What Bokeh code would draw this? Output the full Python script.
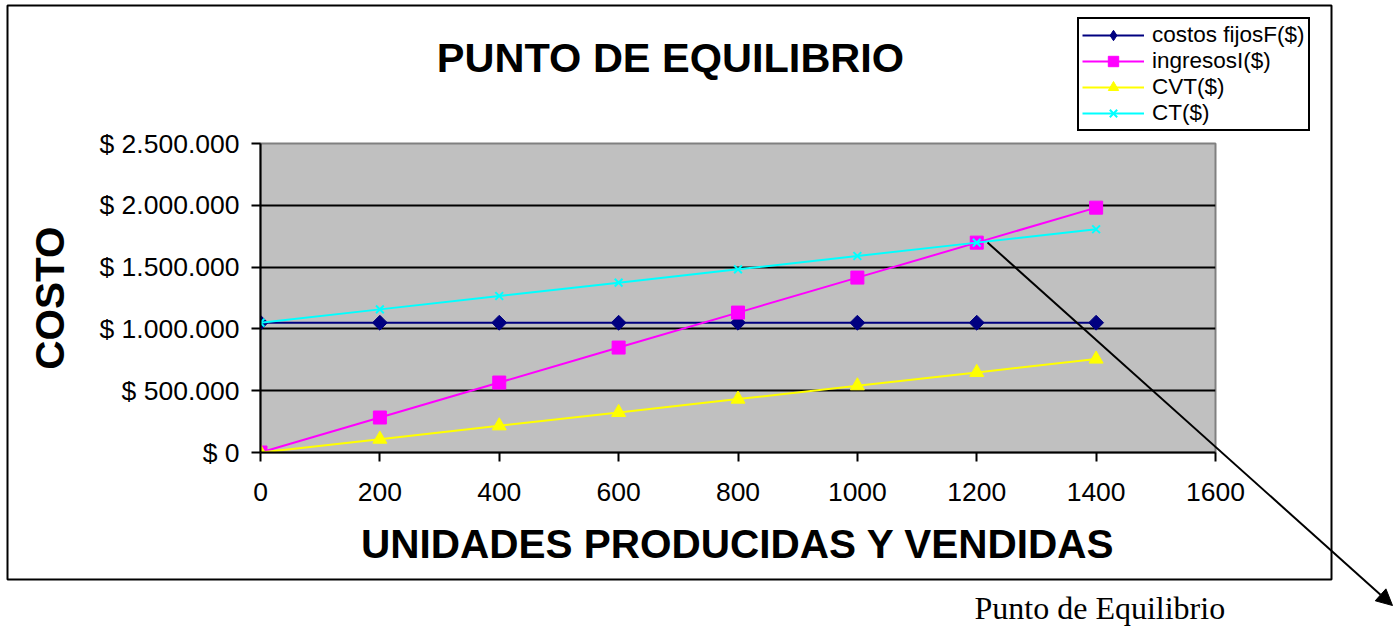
import math
from bokeh.plotting import figure
from bokeh.models import (Range1d, FixedTicker, Legend, LegendItem, Label, Arrow,
                          NormalHead, BoxAnnotation)
from bokeh.embed import file_html
from bokeh.resources import INLINE

# ---- data ----
units = [0, 200, 400, 600, 800, 1000, 1200, 1400]
costos_fijos = [1050000, 1050000, 1050000, 1050000, 1050000, 1050000, 1050000, 1050000]
ingresos = [0, 283000, 566000, 849000, 1132000, 1415000, 1698000, 1981000]
cvt = [0, 108000, 216000, 324000, 432000, 540000, 648000, 756000]
ct = [1050000, 1158000, 1266000, 1374000, 1482000, 1590000, 1698000, 1806000]

series_names = ["costos fijosF($)", "ingresosI($)", "CVT($)", "CT($)"]
series_colors = ["#000080", "#FF00FF", "#FFFF00", "#00FFFF"]
x_ticks = [0, 200, 400, 600, 800, 1000, 1200, 1400, 1600]
y_ticks = [0, 500000, 1000000, 1500000, 2000000, 2500000]
y_tick_labels = ["$ 0", "$ 500.000", "$ 1.000.000", "$ 1.500.000", "$ 2.000.000", "$ 2.500.000"]

FONT = "Liberation Sans"
W, H = 1396, 626

# marker styles for the chart
marker_styles = [
    dict(marker="square", angle=math.pi / 4, size=10.5,
         fill_color=series_colors[0], line_color=series_colors[0]),
    dict(marker="square", size=13, fill_color=series_colors[1], line_color=series_colors[1]),
    dict(marker="triangle", size=14, fill_color=series_colors[2], line_color=series_colors[2]),
    dict(marker="x", size=11, line_color=series_colors[3], line_width=2),
]
# legend swatch markers (legend ignores angle, so a diamond marker is used there)
legend_marker_styles = [
    dict(marker="diamond", fill_color=series_colors[0], line_color=series_colors[0]),
    dict(marker="square", fill_color=series_colors[1], line_color=series_colors[1]),
    dict(marker="triangle", fill_color=series_colors[2], line_color=series_colors[2]),
    dict(marker="x", line_color=series_colors[3], line_width=2),
]

# ================= main chart =================
p = figure(width=W, height=H, output_backend="svg", toolbar_location=None,
           x_range=Range1d(0, 1600), y_range=Range1d(0, 2500000))
p.min_border_left = 260
p.min_border_right = W - 1215
p.min_border_top = 143
p.min_border_bottom = H - 452

p.background_fill_color = "#C0C0C0"
p.border_fill_color = "white"
p.outline_line_color = "#808080"
p.outline_line_width = 2

p.xgrid.visible = False
p.ygrid.ticker = FixedTicker(ticks=y_ticks[:-1])
p.ygrid.grid_line_color = "black"
p.ygrid.grid_line_width = 2

p.xaxis.ticker = FixedTicker(ticks=x_ticks)
p.yaxis.ticker = FixedTicker(ticks=y_ticks)
p.yaxis.major_label_overrides = {t: l for t, l in zip(y_ticks, y_tick_labels)}
for ax in (p.xaxis[0], p.yaxis[0]):
    ax.axis_line_color = "black"
    ax.axis_line_width = 2
    ax.major_tick_line_color = "black"
    ax.major_tick_line_width = 2
    ax.major_tick_in = 0
    ax.major_tick_out = 9
    ax.minor_tick_line_color = None
    ax.major_label_text_font = FONT
    ax.major_label_text_font_size = "26.5px"
    ax.major_label_text_color = "black"
    ax.axis_label_text_font = FONT
    ax.axis_label_text_font_size = "40.5px"
    ax.axis_label_text_font_style = "bold"
    ax.axis_label_text_color = "black"

p.xaxis.axis_label = "UNIDADES PRODUCIDAS Y VENDIDAS"
p.xaxis.major_label_standoff = 21
p.xaxis.axis_label_standoff = 17
p.yaxis.axis_label = "COSTO"
p.yaxis.major_label_standoff = 12
p.yaxis.axis_label_standoff = 24

series = [costos_fijos, ingresos, cvt, ct]
for vals, col, ms in zip(series, series_colors, marker_styles):
    p.line(units, vals, line_color=col, line_width=2)
    p.scatter(units, vals, **ms)

# ================= overlay (title, legend, outer box, arrow, note) =================
ov = figure(width=W, height=H, output_backend="svg", toolbar_location=None,
            x_range=Range1d(0, W), y_range=Range1d(H, 0),
            x_axis_type=None, y_axis_type=None)
ov.min_border_left = ov.min_border_right = ov.min_border_top = ov.min_border_bottom = 0
ov.grid.visible = False
ov.background_fill_alpha = 0
ov.border_fill_alpha = 0
ov.outline_line_color = None
ov.styles = {"position": "absolute", "top": "0px", "left": "0px", "z-index": "10"}

# legend swatch renderers: a single point placed off-canvas, used only by the legend
items = []
for name, col, ms in zip(series_names, series_colors, legend_marker_styles):
    rl = ov.line(x=[-100], y=[-100], line_color=col, line_width=2)
    rm = ov.scatter(x=[-100], y=[-100], **ms)
    items.append(LegendItem(label=name, renderers=[rl, rm]))

legend = Legend(items=items, location=(1077, H - 131))
legend.border_line_color = "black"
legend.border_line_width = 2
legend.border_line_alpha = 1
legend.background_fill_color = "white"
legend.background_fill_alpha = 1
legend.label_text_font = FONT
legend.label_text_font_size = "22.5px"
legend.label_text_color = "black"
legend.glyph_width = 62
legend.glyph_height = 26
legend.label_height = 24
legend.spacing = 0
legend.padding = 3
legend.margin = 0
legend.label_standoff = 8
ov.add_layout(legend)

ov.add_layout(Label(x=670, y=57, text="PUNTO DE EQUILIBRIO",
                    text_align="center", text_baseline="middle",
                    text_font=FONT, text_font_size="41.5px", text_font_style="bold",
                    text_color="black"))

ov.add_layout(BoxAnnotation(left=7, right=1331, top=5, bottom=579,
                            fill_alpha=0, line_color="black", line_width=2, line_alpha=1))

ov.add_layout(Arrow(end=NormalHead(size=16, fill_color="black", line_color="black"),
                    x_start=987, y_start=242, x_end=1392, y_end=605,
                    line_color="black", line_width=2))

ov.add_layout(Label(x=974, y=607, text="Punto de Equilibrio",
                    text_align="left", text_baseline="alphabetic",
                    text_font="Liberation Serif", text_font_size="32px", text_color="black"))

open("out.html", "w").write(file_html([p, ov], INLINE))
